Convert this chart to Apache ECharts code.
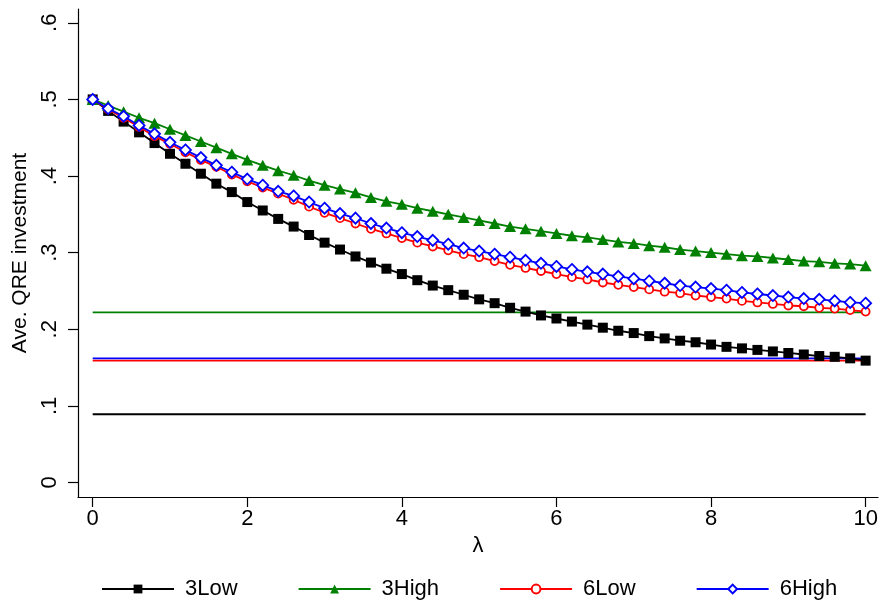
<!DOCTYPE html>
<html>
<head>
<meta charset="utf-8">
<script src="https://cdn.jsdelivr.net/npm/echarts@6/dist/echarts.min.js"></script>
<style>html,body{margin:0;padding:0;background:#fff;}#c{width:882px;height:607px;}</style>
</head>
<body>
<div id="c"></div>
<script>
var lambda = [0,0.2,0.4,0.6,0.8,1.0,1.2,1.4,1.6,1.8,2.0,2.2,2.4,2.6,2.8,3.0,3.2,3.4,3.6,3.8,4.0,4.2,4.4,4.6,4.8,5.0,5.2,5.4,5.6,5.8,6.0,6.2,6.4,6.6,6.8,7.0,7.2,7.4,7.6,7.8,8.0,8.2,8.4,8.6,8.8,9.0,9.2,9.4,9.6,9.8,10];
var low3 = [.500,.485,.471,.457,.443,.429,.416,.403,.390,.379,.366,.355,.344,.334,.323,.313,.304,.295,.287,.279,.272,.264,.257,.251,.245,.239,.234,.228,.223,.218,.214,.210,.206,.202,.198,.195,.191,.188,.185,.183,.180,.177,.175,.173,.171,.169,.167,.165,.164,.162,.159];
var high3 = [.500,.492,.484,.476,.469,.461,.453,.445,.437,.429,.421,.414,.407,.401,.394,.388,.383,.378,.372,.367,.363,.358,.354,.350,.346,.342,.338,.334,.331,.328,.325,.322,.320,.317,.314,.312,.309,.307,.304,.302,.300,.298,.296,.295,.293,.291,.289,.288,.286,.285,.283];
var low6 = [.500,.487,.476,.464,.452,.442,.431,.421,.412,.402,.393,.385,.377,.369,.360,.352,.345,.338,.331,.325,.319,.313,.308,.303,.298,.294,.289,.284,.280,.276,.272,.268,.265,.261,.258,.255,.252,.249,.247,.244,.242,.240,.237,.235,.233,.231,.230,.228,.227,.225,.223];
var high6 = [.500,.488,.478,.466,.455,.444,.434,.424,.414,.405,.396,.388,.380,.374,.366,.358,.351,.345,.338,.332,.326,.321,.316,.311,.306,.302,.298,.294,.290,.286,.282,.278,.275,.272,.269,.266,.263,.260,.257,.255,.253,.251,.248,.246,.244,.242,.240,.239,.237,.235,.234];
// constant reference levels (drawn from lambda 0 to 10)
var refLevels = {low3: .089, high3: .222, low6: .159, high6: .162};
var seriesNames = ['3Low','3High','6Low','6High'];
var xTicks = [0,2,4,6,8,10];
var xTickLabels = ['0','2','4','6','8','10'];
var yTicks = [0,0.1,0.2,0.3,0.4,0.5,0.6];
var yTickLabels = ['0','.1','.2','.3','.4','.5','.6'];

var FONT = 'Liberation Sans';
function pairs(ys){ return lambda.map(function(x,i){return [x, ys[i]];}); }
function refLine(v){ return [[lambda[0], v],[lambda[lambda.length-1], v]]; }

var colors = {k:'#000000', g:'#008000', r:'#ff0000', b:'#0000ff'};
var LW = 1.8;

var chart = echarts.init(document.getElementById('c'), null, {renderer:'canvas'});
chart.setOption({
  animation: false,
  backgroundColor: '#ffffff',
  textStyle: {fontFamily: FONT},
  grid: {left: 78, right: 4, top: 9, bottom: 110, containLabel: false},
  xAxis: {
    type: 'value', min: -0.19, max: 10.16,
    name: 'λ', nameLocation: 'middle', nameGap: 36,
    nameTextStyle: {fontFamily: FONT, fontSize: 22, color: '#000'},
    axisLine: {show: true, onZero: false, lineStyle: {color: '#000', width: 1.2}},
    axisTick: {show: true, inside: false, length: 10, customValues: xTicks, lineStyle: {color: '#000', width: 1.2}},
    axisLabel: {customValues: xTicks, margin: 11, fontFamily: FONT, fontSize: 22, color: '#000',
      formatter: function(v){ var i = xTicks.indexOf(v); return i >= 0 ? xTickLabels[i] : ''; }},
    splitLine: {show: false}
  },
  yAxis: {
    type: 'value', min: -0.019, max: 0.618,
    name: 'Ave. QRE investment', nameLocation: 'middle', nameGap: 46, nameRotate: 90,
    nameTextStyle: {fontFamily: FONT, fontSize: 21, color: '#000'},
    axisLine: {show: true, onZero: false, lineStyle: {color: '#000', width: 1.2}},
    axisTick: {show: true, inside: false, length: 10, customValues: yTicks, lineStyle: {color: '#000', width: 1.2}},
    axisLabel: {customValues: yTicks, rotate: 90, margin: 17, fontFamily: FONT, fontSize: 22, color: '#000',
      formatter: function(v){ for (var i=0;i<yTicks.length;i++){ if (Math.abs(yTicks[i]-v)<1e-9) return yTickLabels[i]; } return ''; }},
    splitLine: {show: false}
  },
  legend: {
    data: seriesNames,
    left: 101, top: 578, padding: 0,
    itemWidth: 72, itemHeight: 11, itemGap: 60,
    textStyle: {fontFamily: FONT, fontSize: 22, color: '#000', padding: [0,0,0,6]}
  },
  series: [
    {name: 'ref3Low', type: 'line', data: refLine(refLevels.low3), symbol: 'none', lineStyle: {color: colors.k, width: LW}, z: 1, silent: true},
    {name: 'ref3High', type: 'line', data: refLine(refLevels.high3), symbol: 'none', lineStyle: {color: colors.g, width: LW}, z: 1, silent: true},
    {name: 'ref6Low', type: 'line', data: refLine(refLevels.low6), symbol: 'none', lineStyle: {color: colors.r, width: LW}, z: 1, silent: true},
    {name: 'ref6High', type: 'line', data: refLine(refLevels.high6), symbol: 'none', lineStyle: {color: colors.b, width: LW}, z: 1, silent: true},
    {name: '3Low', type: 'line', data: pairs(low3), symbol: 'rect', symbolSize: 10,
      itemStyle: {color: colors.k}, lineStyle: {color: colors.k, width: LW}, z: 2},
    {name: '3High', type: 'line', data: pairs(high3), symbol: 'triangle', symbolSize: [12,11],
      itemStyle: {color: colors.g}, lineStyle: {color: colors.g, width: LW}, z: 3},
    {name: '6Low', type: 'line', data: pairs(low6), symbol: 'circle', symbolSize: 8,
      itemStyle: {color: '#ffffff', borderColor: colors.r, borderWidth: 1.8}, lineStyle: {color: colors.r, width: LW}, z: 4},
    {name: '6High', type: 'line', data: pairs(high6), symbol: 'diamond', symbolSize: 11,
      itemStyle: {color: '#ffffff', borderColor: colors.b, borderWidth: 1.8}, lineStyle: {color: colors.b, width: LW}, z: 5}
  ]
});
</script>
</body>
</html>
